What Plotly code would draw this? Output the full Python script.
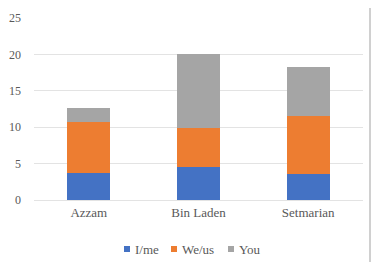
import plotly.graph_objects as go

categories = ["Azzam", "Bin Laden", "Setmarian"]
i_me = [3.7, 4.5, 3.6]
we_us = [7.0, 5.4, 8.0]
you = [2.0, 10.1, 6.7]
series_names = ["I/me", "We/us", "You"]
colors = ["#4472C4", "#ED7D31", "#A5A5A5"]

font_family = "Liberation Serif"
text_color = "#595959"

# plot area in reference pixels: x 34..363, y 18..200
PL, PR, PT, PB = 34, 363, 18, 200
def px(x):
    return (x - PL) / (PR - PL)
def py(y):
    return (PB - y) / (PB - PT)

fig = go.Figure()
for name, vals, col in zip(series_names, [i_me, we_us, you], colors):
    fig.add_trace(go.Bar(name=name, x=categories, y=vals, marker_color=col,
                         marker_line_width=0, width=0.39, showlegend=False))

# custom legend (small squares + labels)
legend_sq_x = [124, 171, 228]
shapes = []
annotations = []
for name, col, sx in zip(series_names, colors, legend_sq_x):
    shapes.append(dict(type="rect", xref="paper", yref="paper",
                       x0=px(sx), x1=px(sx + 6), y0=py(252), y1=py(246),
                       fillcolor=col, line=dict(width=0)))
    annotations.append(dict(xref="paper", yref="paper", x=px(sx + 9), y=py(249),
                            xanchor="left", yanchor="middle", showarrow=False,
                            text=name, font=dict(size=13, color=text_color,
                                                 family=font_family)))
# chart border (right side)
shapes.append(dict(type="line", xref="paper", yref="paper", x0=px(370), x1=px(370),
                   y0=py(8), y1=py(262), line=dict(color="#D0D0D0", width=2)))

fig.update_layout(
    barmode="stack",
    width=375, height=254,
    margin=dict(l=PL - 8, r=375 - (PR - 8), t=PT - 8, b=254 - (PB - 8), autoexpand=False),
    paper_bgcolor="white", plot_bgcolor="white",
    font=dict(family=font_family, color=text_color, size=12),
    showlegend=False,
    yaxis=dict(range=[0, 25], dtick=5, gridcolor="#E3E3E3", gridwidth=1,
               zeroline=False, showline=False, tickfont=dict(size=12, color=text_color),
               ticks="", ticklabelstandoff=12),
    xaxis=dict(showline=True, linecolor="#E3E3E3", linewidth=1,
               tickfont=dict(size=13, color=text_color)),
    shapes=shapes,
    annotations=annotations,
)

fig.write_html("out.html")
